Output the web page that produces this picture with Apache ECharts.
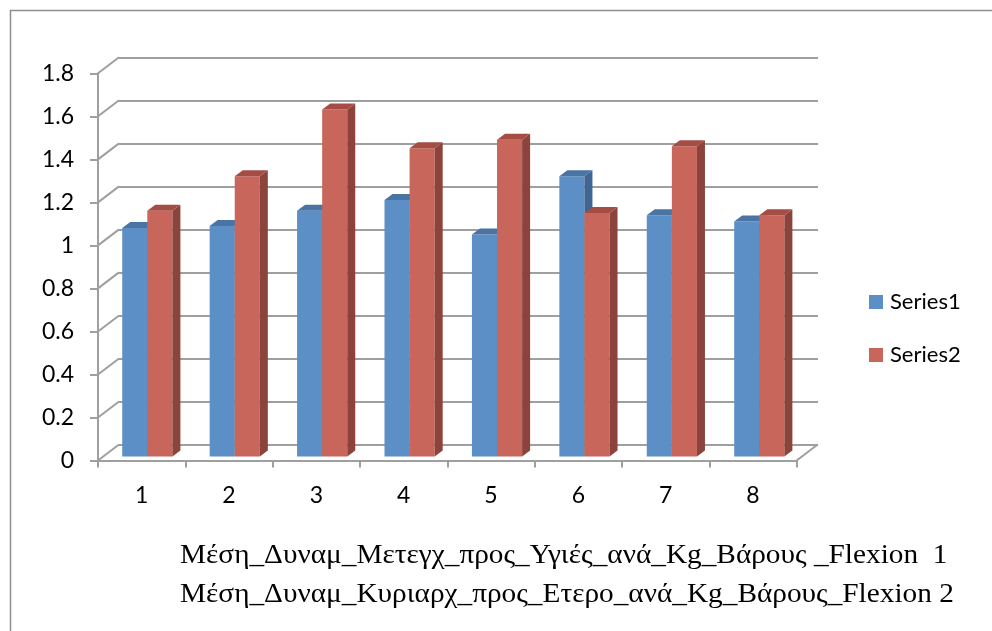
<!DOCTYPE html>
<html>
<head>
<meta charset="utf-8">
<script src="https://cdn.jsdelivr.net/npm/echarts@6/dist/echarts.min.js"></script>
<style>
html,body{margin:0;padding:0;background:#fff;}
#c{width:992px;height:631px;}
</style>
</head>
<body>
<div id="c"></div>
<script>
const categories = ['1','2','3','4','5','6','7','8'];
const series1 = [1.06, 1.07, 1.14, 1.19, 1.03, 1.30, 1.12, 1.09];
const series2 = [1.14, 1.30, 1.61, 1.43, 1.47, 1.13, 1.44, 1.12];
const seriesNames = ['Series1', 'Series2'];
const yTicks = [0, 0.2, 0.4, 0.6, 0.8, 1, 1.2, 1.4, 1.6, 1.8];
const footerLines = [
  'Μέση_Δυναμ_Μετεγχ_προς_Υγιές_ανά_Kg_Βάρους _Flexion  1',
  'Μέση_Δυναμ_Κυριαρχ_προς_Ετερο_ανά_Kg_Βάρους_Flexion 2'
];

const GRID_COLOR = '#9f9f9f';
const DX = 21, DY = 16;        // depth offset of back wall
const BDX = 8, BDY = 6;        // bar depth
const colors = [
  {front:'#5b8fc6', side:'#3f6592', top:'#4a74a3'},
  {front:'#c9665b', side:'#8c433b', top:'#a54d45'}
];

function barRender(si){
  return function(params, api){
    const cat = api.value(0), val = api.value(1);
    const base = api.coord([cat, 0]);
    const top = api.coord([cat, val]);
    const band = api.size([1, 0])[0];
    const w = band * 0.287;
    const x0 = si === 0 ? base[0] - w : base[0];
    const x1 = x0 + w;
    const c = colors[si];
    return {type:'group', children:[
      {type:'rect', shape:{x:x0, y:top[1], width:w, height:base[1]-top[1]}, style:{fill:c.front}},
      {type:'polygon', shape:{points:[[x1,top[1]],[x1+BDX,top[1]-BDY],[x1+BDX,base[1]-BDY],[x1,base[1]]]}, style:{fill:c.side}},
      {type:'polygon', shape:{points:[[x0,top[1]],[x0+BDX,top[1]-BDY],[x1+BDX,top[1]-BDY],[x1,top[1]]]}, style:{fill:c.top}}
    ]};
  };
}

const chart = echarts.init(document.getElementById('c'), null, {renderer:'canvas'});
const labelFont = 'Lato, "Open Sans", sans-serif';
const footFont = '27px "Liberation Serif", "Times New Roman", serif';

const option = {
  animation:false,
  backgroundColor:'#fff',
  grid:[
    {left:98, right:195.3, top:73.3, bottom:170.5},   // front axes
    {left:119, right:174, top:57.3, bottom:186.5},    // back wall
    {left:103.6, right:189, top:68.6, bottom:174.5}   // bars plane
  ],
  xAxis:[
    {gridIndex:0, type:'category', data:categories, boundaryGap:true,
     axisLine:{lineStyle:{color:GRID_COLOR, width:2}},
     axisTick:{show:true, inside:false, length:7, lineStyle:{color:GRID_COLOR, width:2}},
     axisLabel:{color:'#000', fontSize:23, fontFamily:labelFont, margin:24},
     splitLine:{show:false}},
    {gridIndex:1, type:'category', data:categories, show:false},
    {gridIndex:2, type:'category', data:categories, show:false}
  ],
  yAxis:[
    {gridIndex:0, type:'value', min:0, max:1.8, interval:0.2,
     axisLine:{show:true, lineStyle:{color:GRID_COLOR, width:2}},
     axisTick:{show:true, inside:false, length:8, lineStyle:{color:GRID_COLOR, width:2}},
     axisLabel:{color:'#000', fontSize:23, fontFamily:labelFont, margin:24},
     splitLine:{show:false}},
    {gridIndex:1, type:'value', min:0, max:1.8, interval:0.2,
     axisLine:{show:false}, axisTick:{show:false}, axisLabel:{show:false},
     splitLine:{show:true, lineStyle:{color:GRID_COLOR, width:2}}},
    {gridIndex:2, type:'value', min:0, max:1.8, interval:0.2, show:false}
  ],
  legend:{
    data:seriesNames, orient:'vertical', left:864, top:286,
    itemWidth:14, itemHeight:14, itemGap:31, icon:'rect',
    textStyle:{color:'#000', fontSize:22, fontFamily:labelFont, lineHeight:22, padding:[0,0,0,2]}
  },
  series:[
    {type:'custom', name:'diag', xAxisIndex:0, yAxisIndex:0, z:1, silent:true,
     data:yTicks.map(v => [0, v]),
     renderItem:function(params, api){
       const cs = params.coordSys;
       const v = api.value(1);
       const y = api.coord([0, v])[1];
       const ch = [{type:'line', shape:{x1:cs.x, y1:y, x2:cs.x+DX, y2:y-DY}, style:{stroke:GRID_COLOR, lineWidth:2}}];
       if (v === 0) {
         ch.push({type:'line', shape:{x1:cs.x+cs.width, y1:y, x2:cs.x+cs.width+DX, y2:y-DY}, style:{stroke:GRID_COLOR, lineWidth:2}});
       }
       return {type:'group', children:ch};
     }},
    {type:'custom', name:seriesNames[0], xAxisIndex:2, yAxisIndex:2, z:3,
     itemStyle:{color:colors[0].front},
     data:series1.map((v,i) => [i, v]), renderItem:barRender(0)},
    {type:'custom', name:seriesNames[1], xAxisIndex:2, yAxisIndex:2, z:4,
     itemStyle:{color:colors[1].front},
     data:series2.map((v,i) => [i, v]), renderItem:barRender(1)}
  ],
  graphic:[
    {type:'rect', left:8, top:8, shape:{width:1100, height:800}, style:{fill:'none', stroke:'#8f8f8f', lineWidth:1.5}, silent:true},
    {type:'text', x:180, y:556, scaleX:1.085, style:{text:footerLines[0], font:footFont, fill:'#000', verticalAlign:'middle'}},
    {type:'text', x:180, y:595, scaleX:1.085, style:{text:footerLines[1], font:footFont, fill:'#000', verticalAlign:'middle'}}
  ]
};
chart.setOption(option);
</script>
</body>
</html>
